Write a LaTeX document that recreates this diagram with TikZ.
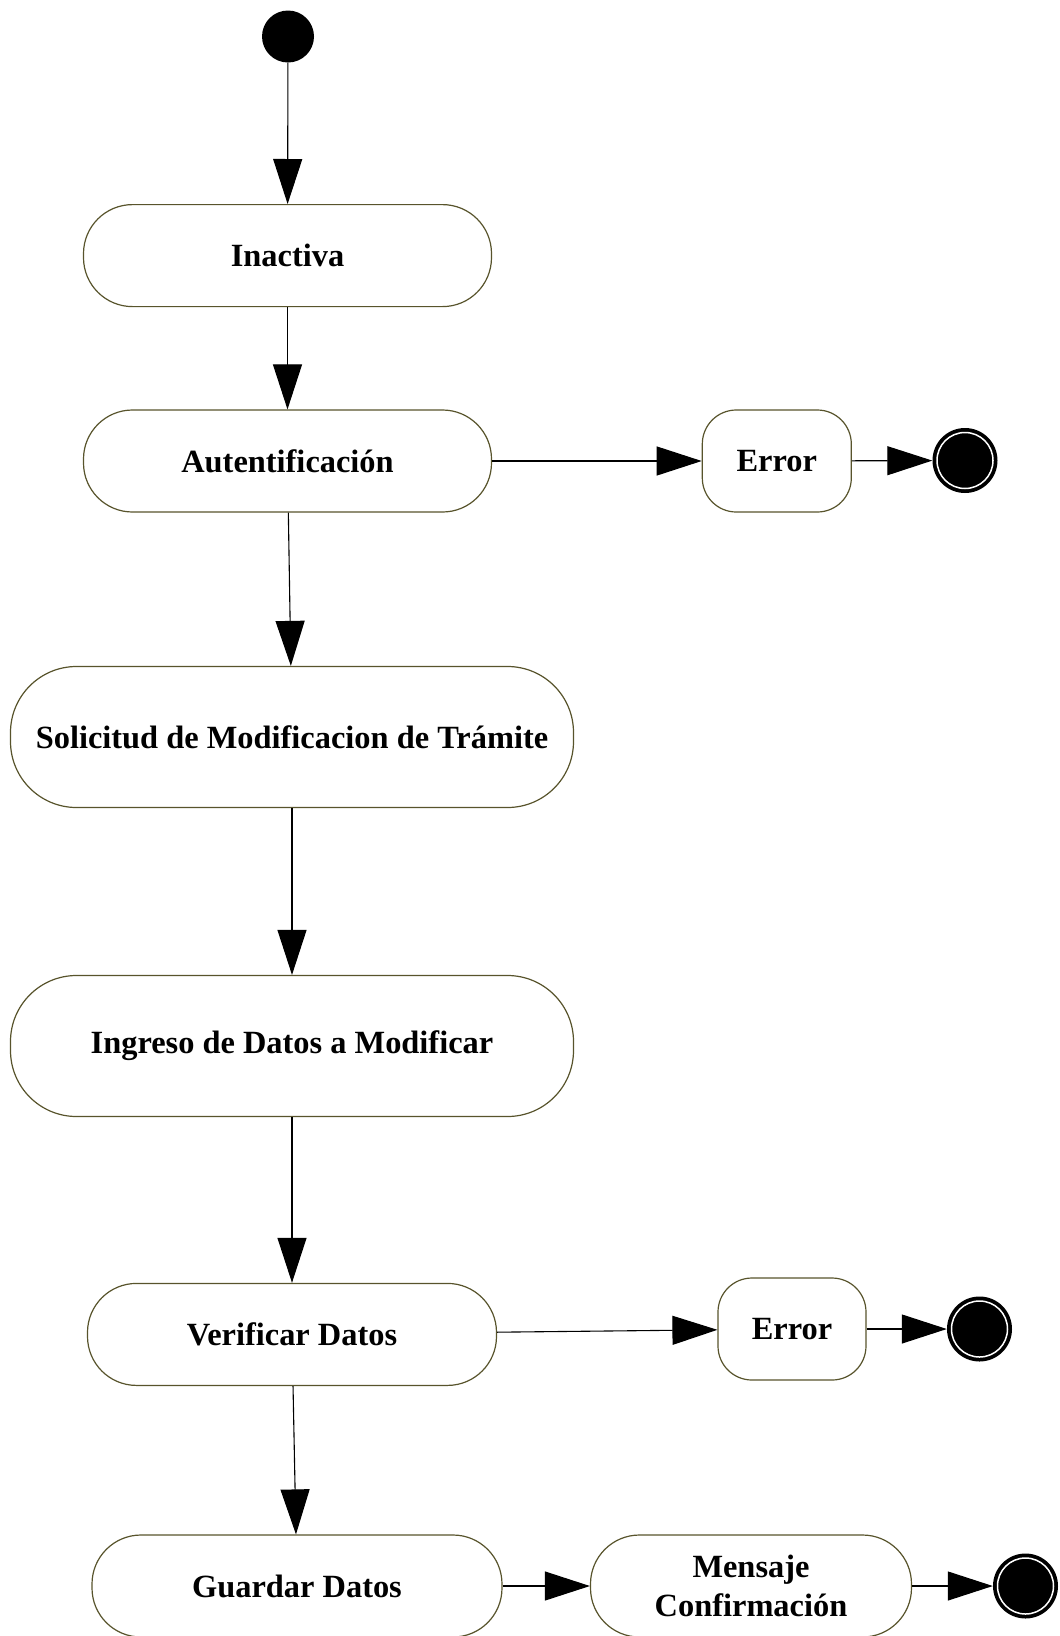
\documentclass[tikz,border=0pt]{standalone}
\usepackage{fontspec}
\setmainfont{Liberation Serif}
\usetikzlibrary{arrows.meta}

\definecolor{boxline}{RGB}{88,84,44}

\tikzset{
  x=1pt, y=-1pt,
  state/.style={draw=boxline, line width=1.2pt, fill=white, inner sep=0pt,
    font=\fontsize{32.4}{38.5}\selectfont\bfseries, align=center,
    minimum height=102pt},
  bigstate/.style={state, minimum height=141pt, rounded corners=66pt},
  midstate/.style={state, rounded corners=49pt},
  errstate/.style={state, rounded corners=34pt, minimum width=149pt},
  initial/.style={circle, fill=black, minimum size=52pt, inner sep=0pt},
  flow/.style={line width=1.1pt, -{Triangle[length=45pt, width=29pt]}},
}

% final state: black disc with a thin white ring inside
\newcommand{\finalstate}[2]{%
  \node[circle, fill=black, minimum size=65pt, inner sep=0pt] (#1) at #2 {};
  \draw[white, line width=1.5pt] #2 circle[radius=28pt];
}

\begin{document}
\begin{tikzpicture}
\useasboundingbox (0,0) rectangle (1060,1636);

\node[initial] (start) at (288,36.5) {};

\node[midstate, minimum width=408pt] (inactiva) at (287.5,255.6) {Inactiva};
\node[midstate, minimum width=408pt] (auth) at (287.5,461) {Autentificación};
\node[errstate] (err1) at (776.8,461) {Error};
\finalstate{end1}{(965,460.5)}

\node[bigstate, minimum width=563pt] (solicitud) at (292,737) {Solicitud de Modificacion de Trámite};
\node[bigstate, minimum width=563pt] (ingreso) at (292,1046) {Ingreso de Datos a Modificar};

\node[midstate, minimum width=409pt] (verificar) at (292,1334.4) {Verificar Datos};
\node[errstate, minimum width=148pt] (err2) at (792,1329) {Error};
\finalstate{end2}{(979.5,1329)}

\node[midstate, minimum width=410pt] (guardar) at (297,1586) {Guardar Datos};
\node[midstate, minimum width=321pt] (mensaje) at (751,1586) {Mensaje\\Confirmación};
\finalstate{end3}{(1025.5,1586)}

\draw[flow] (start) -- (inactiva);
\draw[flow] (inactiva) -- (auth);
\draw[flow] (auth) -- (err1);
\draw[flow] (err1) -- (end1);
\draw[flow] (auth) -- (solicitud);
\draw[flow] (solicitud) -- (ingreso);
\draw[flow] (ingreso) -- (verificar);
\draw[flow] (verificar) -- (err2);
\draw[flow] (err2) -- (end2);
\draw[flow] (verificar) -- (guardar);
\draw[flow] (guardar) -- (mensaje);
\draw[flow] (mensaje) -- (end3);
\end{tikzpicture}
\end{document}
